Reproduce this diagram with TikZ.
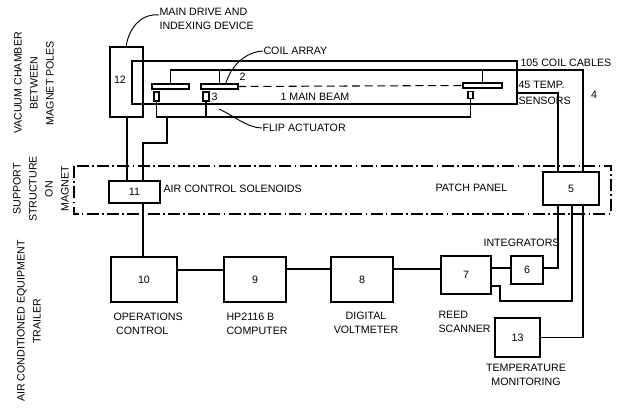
\documentclass[tikz,border=0pt]{standalone}
\usepackage{fontspec}
\setmainfont{Liberation Sans}
\newcommand{\mylbl}{\fontsize{8}{10.5}\selectfont}
\newcommand{\mysidelbl}{\fontsize{8}{12}\selectfont}
\begin{document}
\begin{tikzpicture}[x=0.75pt,y=-0.75pt,line width=0.8pt,
  blk/.style 2 args={draw, minimum width=#1*0.75pt, minimum height=#2*0.75pt, inner sep=0pt, outer sep=0pt, font=\mylbl},
  lab/.style={inner sep=0pt, font=\mylbl, align=left},
  sidelab/.style={inner sep=0pt, font=\mysidelbl, align=center, rotate=90},
  dashdot/.style={dash pattern=on 9pt off 2.5pt on 1.2pt off 2.5pt},
  beam/.style={dash pattern=on 6pt off 3.5pt},
  leader/.style={line width=0.7pt}]
\useasboundingbox (0,0) rectangle (621,408);

% side labels
\node[sidelab] (svac) at (34,83) {VACUUM CHAMBER\\BETWEEN\\MAGNET POLES};
\node[sidelab] (ssup) at (41,189) {SUPPORT\\STRUCTURE\\ON\\MAGNET};
\node[sidelab] (sair) at (29,321) {AIR CONDITIONED EQUIPMENT\\TRAILER};

% vacuum chamber parts
\node[blk={33}{70}] (b12) at (126.5,82) {};
\node[lab] (l12) at (120,80) {12};
\node[blk={385}{43}] (frame) at (324.5,82.5) {};
\node[blk={37}{5}] (cl) at (170.5,86.5) {};
\node[blk={37}{5}] (cm) at (219.5,86.5) {};
\node[blk={39}{5}] (cr) at (482.5,85.5) {};
\node[blk={5}{9}] (al) at (156.5,96.5) {};
\node[blk={6}{9}] (am) at (206,96.5) {};
\node[blk={5}{7}] (ar) at (470.5,95) {};
\draw[beam] (cm.east) -- (cr.west);

% support structure
\draw[dashdot] (74,166) rectangle (611,214);
\node[blk={51}{22}] (b11) at (134.5,192) {11};
\node[blk={56}{33}] (b5) at (571,188.5) {5};

% trailer
\node[blk={66}{45}] (b10) at (144,279.5) {10};
\node[blk={62}{45}] (b9) at (255,279.5) {9};
\node[blk={62}{45}] (b8) at (362,279.5) {8};
\node[blk={50}{38}] (b7) at (466,275) {7};
\node[blk={32}{28}] (b6) at (527,270) {6};
\node[blk={45}{39}] (b13) at (517.5,337.5) {13};

% coordinates
\coordinate (c105) at (583,70);
\coordinate (t45) at (558,93);
\coordinate (fbr) at (470.5,117);
\coordinate (fa) at (167,117);
\coordinate (fb) at (143,143);
\coordinate (d12) at (127,117);
\coordinate (d11) at (143,203);
\coordinate (r1) at (0,270);
\coordinate (r2) at (0,269);
\coordinate (r3) at (0,268);
\coordinate (p1) at (572,301);
\coordinate (p2) at (500,286);

% coil cables
\draw (cl.north) |- (c105) -- (c105 |- b5.north);
\draw (cm.north) -- (cm.north |- c105);
\draw (cr.north) -- (cr.north |- c105);
% temperature sensors
\draw (frame.east |- t45) -- (t45) -- (t45 |- b5.north);
% flip actuators
\draw (al.south) |- (fbr) -- (ar.south);
\draw (am.south) -- (am.south |- fbr);
\draw (fa) |- (fb) -- (fb |- b11.north);
% drive
\draw (d12) -- (d12 |- b11.north);
\draw (d11) -- (d11 |- b10.north);
% trailer chain
\draw (b10.east |- r1) -- (b9.west |- r1);
\draw (b9.east |- r2) -- (b8.west |- r2);
\draw (b8.east |- r2) -- (b7.west |- r2);
\draw (b7.east |- r3) -- (b6.west |- r3);
% patch panel outputs
\draw (t45 |- b5.south) |- (b6.east |- r3);
\draw (p1 |- b5.south) -- (p1) -| (p2) -- (b7.east |- p2);
\draw (c105 |- b5.south) |- (b13.east);

% labels
\node[lab, anchor=north west] (tdrive) at (159,8) {MAIN DRIVE AND\\INDEXING DEVICE};
\node[lab, anchor=west] (tcoil) at (263,51) {COIL ARRAY};
\node[lab, anchor=west] (t2) at (239,77) {2};
\node[lab, anchor=west] (t3) at (211,97) {3};
\node[lab, anchor=west] (tbeam) at (280,97) {1 MAIN BEAM};
\node[lab, anchor=west] (tflip) at (262,128) {FLIP ACTUATOR};
\node[lab, anchor=west] (t105) at (520,63) {105 COIL CABLES};
\node[lab, anchor=west] (ttemp) at (518,85) {45 TEMP.};
\node[lab, anchor=west] (tsens) at (518,101) {SENSORS};
\node[lab, anchor=center] (t4) at (594,95) {4};
\node[lab, anchor=west] (tair) at (163,189) {AIR CONTROL SOLENOIDS};
\node[lab, anchor=west] (tpatch) at (435,188) {PATCH PANEL};
\node[lab, anchor=west] (tint) at (483,243) {INTEGRATORS};
\node[lab, anchor=north west] (top) at (113,313) {OPERATIONS\\\hspace*{2pt}CONTROL};
\node[lab, anchor=north west] (thp) at (226,313) {HP2116 B\\COMPUTER};
\node[lab, anchor=north, align=center] (tdvm) at (366,312) {DIGITAL\\VOLTMETER};
\node[lab, anchor=north west] (treed) at (438,311) {REED\\SCANNER};
\node[lab, anchor=north, align=center] (ttm) at (526,364) {TEMPERATURE\\MONITORING};

% leaders
\draw[leader] (b12.north -| 126,0) .. controls (129,26) and (143,13) .. (tdrive.west |- 0,15);
\draw[leader] (226,83) .. controls (231,66) and (245,52) .. (tcoil.west);
\draw[leader] (am.south east) ++(10,8) .. controls (234,116) and (248,128) .. (tflip.west);
\end{tikzpicture}
\end{document}
